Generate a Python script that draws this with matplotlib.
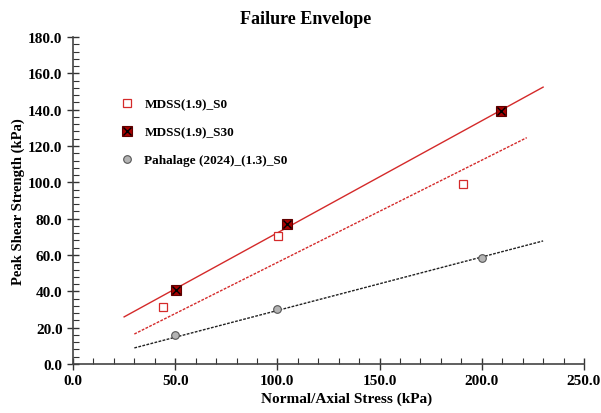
import matplotlib.pyplot as plt
import numpy as np
from matplotlib.ticker import MultipleLocator, FormatStrFormatter

plt.rcParams['font.family'] = ['Liberation Serif', 'DejaVu Serif']
plt.rcParams['font.weight'] = 'bold'

# measured points
s0_x = [44, 100.5, 191]
s0_y = [31.5, 70.5, 99]
s30_x = [50.5, 104.5, 209.5]
s30_y = [41, 77, 139.5]
pah_x = [50, 100, 200]
pah_y = [16, 30.5, 58.5]

# trend lines: slope, intercept, x range
s0_fit = (0.563, -0.4, [30, 222])
s30_fit = (0.617, 10.5, [25, 230])
pah_fit = (0.2945, 0.0, [30, 230])

fig = plt.figure(figsize=(6.01, 4.14), dpi=100)
ax = fig.add_axes([0.1215, 0.1184, 0.8502, 0.7898])

for (m, b, xr), col, ls, lw in [(s30_fit, '#d42a2a', '-', 1.0),
                                (s0_fit, '#d42a2a', (0, (2, 1)), 1.0),
                                (pah_fit, '#222222', (0, (2, 1)), 1.0)]:
    xx = np.array(xr)
    ax.plot(xx, m * xx + b, color=col, linestyle=ls, linewidth=lw)

h0, = ax.plot(s0_x, s0_y, 's', markersize=6, markerfacecolor='white',
              markeredgecolor='#d42a2a', markeredgewidth=0.9, linestyle='none')
h1a, = ax.plot(s30_x, s30_y, 's', markersize=6.5, markerfacecolor='#a50000',
               markeredgecolor='#600000', markeredgewidth=0.8, linestyle='none')
h1b, = ax.plot(s30_x, s30_y, 'x', markersize=6, color='black',
               markeredgewidth=1.0, linestyle='none')
h2, = ax.plot(pah_x, pah_y, 'o', markersize=5.5, markerfacecolor='#b4b4b4',
              markeredgecolor='#555555', markeredgewidth=0.8, linestyle='none')

ax.set_xlim(0, 250)
ax.set_ylim(0, 180)
ax.xaxis.set_major_locator(MultipleLocator(50))
ax.xaxis.set_minor_locator(MultipleLocator(10))
ax.yaxis.set_major_locator(MultipleLocator(20))
ax.yaxis.set_minor_locator(MultipleLocator(4))
ax.xaxis.set_major_formatter(FormatStrFormatter('%.1f'))
ax.yaxis.set_major_formatter(FormatStrFormatter('%.1f'))
ax.tick_params(which='major', direction='inout', length=8, width=1.0,
               labelsize=11, color='#333333')
ax.tick_params(which='minor', direction='in', length=4, width=0.8, color='#333333')
for side in ['top', 'right']:
    ax.spines[side].set_visible(False)
for side in ['left', 'bottom']:
    ax.spines[side].set_color('#444444')
    ax.spines[side].set_linewidth(1.2)

ax.set_title('Failure Envelope', fontsize=13, fontweight='bold', pad=10, x=0.456)
ax.set_xlabel('Normal/Axial Stress (kPa)', fontsize=11, fontweight='bold')
ax.set_ylabel('Peak Shear Strength (kPa)', fontsize=10.5, fontweight='bold')
ax.xaxis.set_label_coords(0.536, -0.085)
ax.yaxis.set_label_coords(-0.094, 0.5)

ax.legend([h0, (h1a, h1b), h2],
          ['MDSS(1.9)_S0', 'MDSS(1.9)_S30', 'Pahalage (2024)_(1.3)_S0'],
          loc='upper left', bbox_to_anchor=(0.07, 0.85), frameon=False,
          fontsize=9.5, labelspacing=1.2, handlelength=1.0, handletextpad=0.8)

fig.savefig('out.png', dpi=100)
